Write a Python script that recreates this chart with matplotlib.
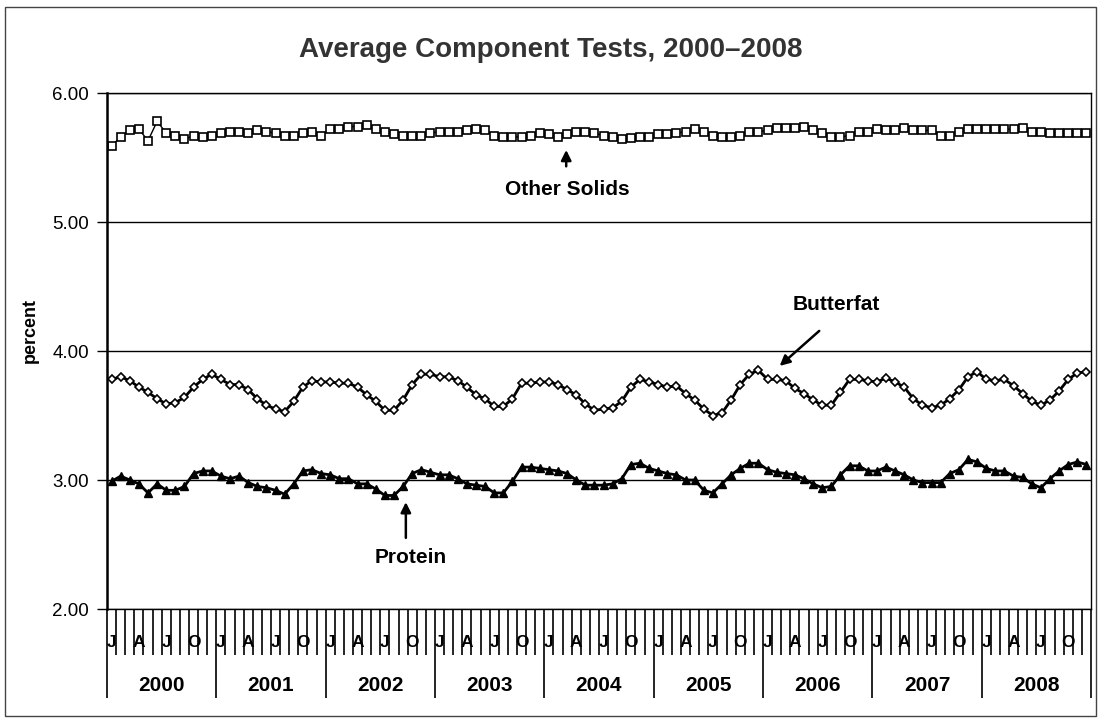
import matplotlib
matplotlib.use("Agg")
import matplotlib.pyplot as plt
from matplotlib.patches import Rectangle

plt.rcParams['font.family'] = ['Liberation Sans', 'DejaVu Sans']

years = ['2000', '2001', '2002', '2003', '2004', '2005', '2006', '2007', '2008']
month_labels = ['J', '', '', 'A', '', '', 'J', '', '', 'O', '', '']

other_solids = [
    5.59, 5.66, 5.71, 5.72, 5.63, 5.78, 5.69, 5.67, 5.64, 5.67, 5.66, 5.67,
    5.69, 5.70, 5.70, 5.69, 5.71, 5.70, 5.69, 5.67, 5.67, 5.69, 5.70, 5.67,
    5.72, 5.72, 5.74, 5.74, 5.75, 5.72, 5.70, 5.68, 5.67, 5.67, 5.67, 5.69,
    5.70, 5.70, 5.70, 5.71, 5.72, 5.71, 5.67, 5.66, 5.66, 5.66, 5.67, 5.69,
    5.68, 5.66, 5.68, 5.70, 5.70, 5.69, 5.67, 5.66, 5.64, 5.65, 5.66, 5.66,
    5.68, 5.68, 5.69, 5.70, 5.72, 5.70, 5.67, 5.66, 5.66, 5.67, 5.70, 5.70,
    5.71, 5.73, 5.73, 5.73, 5.74, 5.71, 5.69, 5.66, 5.66, 5.67, 5.70, 5.70,
    5.72, 5.71, 5.71, 5.73, 5.71, 5.71, 5.71, 5.67, 5.67, 5.70, 5.72, 5.72,
    5.72, 5.72, 5.72, 5.72, 5.73, 5.70, 5.70, 5.69, 5.69, 5.69, 5.69, 5.69,
]

butterfat = [
    3.78, 3.80, 3.77, 3.72, 3.68, 3.63, 3.59, 3.60, 3.64, 3.72, 3.78, 3.82,
    3.78, 3.74, 3.74, 3.70, 3.63, 3.58, 3.55, 3.53, 3.61, 3.72, 3.77, 3.76,
    3.76, 3.75, 3.75, 3.72, 3.66, 3.61, 3.54, 3.54, 3.62, 3.74, 3.82, 3.82,
    3.80, 3.80, 3.77, 3.72, 3.66, 3.63, 3.57, 3.57, 3.63, 3.75, 3.75, 3.76,
    3.76, 3.74, 3.70, 3.66, 3.59, 3.54, 3.55, 3.56, 3.61, 3.72, 3.78, 3.76,
    3.74, 3.72, 3.73, 3.67, 3.62, 3.55, 3.50, 3.52, 3.62, 3.74, 3.82, 3.85,
    3.78, 3.78, 3.77, 3.71, 3.67, 3.62, 3.58, 3.58, 3.68, 3.78, 3.78, 3.77,
    3.76, 3.79, 3.76, 3.72, 3.63, 3.58, 3.56, 3.58, 3.63, 3.70, 3.80, 3.84,
    3.78, 3.77, 3.78, 3.73, 3.67, 3.61, 3.58, 3.62, 3.69, 3.78, 3.83, 3.84,
]

protein = [
    2.99, 3.03, 3.00, 2.97, 2.90, 2.97, 2.92, 2.92, 2.95, 3.05, 3.07, 3.07,
    3.03, 3.01, 3.03, 2.98, 2.95, 2.94, 2.92, 2.89, 2.97, 3.07, 3.08, 3.05,
    3.04, 3.01, 3.01, 2.97, 2.97, 2.93, 2.88, 2.88, 2.95, 3.05, 3.08, 3.06,
    3.04, 3.04, 3.01, 2.97, 2.96, 2.95, 2.90, 2.90, 2.99, 3.10, 3.10, 3.09,
    3.08, 3.07, 3.05, 3.00, 2.96, 2.96, 2.96, 2.97, 3.01, 3.12, 3.13, 3.09,
    3.07, 3.05, 3.04, 3.00, 3.00, 2.92, 2.90, 2.97, 3.04, 3.09, 3.13, 3.13,
    3.08, 3.06, 3.05, 3.04, 3.01, 2.97, 2.94, 2.95, 3.04, 3.11, 3.11, 3.07,
    3.07, 3.10, 3.07, 3.04, 3.00, 2.98, 2.98, 2.98, 3.05, 3.08, 3.16, 3.14,
    3.09, 3.07, 3.07, 3.03, 3.02, 2.97, 2.94, 3.01, 3.07, 3.12, 3.14, 3.12,
]


def build_chart():
    n = len(protein)
    x = [i + 0.5 for i in range(n)]

    fig = plt.figure(figsize=(11.01, 7.22), dpi=100)
    ax = fig.add_axes([107 / 1101, 1 - 609 / 722, 984 / 1101, 516 / 722])

    # outer frame around the whole chart
    fig.patches.append(Rectangle((5 / 1101, 1 - 716 / 722), 1091 / 1101, 709 / 722,
                                 transform=fig.transFigure, fill=False,
                                 edgecolor='#444444', linewidth=1))

    ax.plot(x, other_solids, color='black', linewidth=1, marker='s', markersize=5.5,
            markerfacecolor='white', markeredgecolor='black', markeredgewidth=1.2)
    ax.plot(x, butterfat, color='black', linewidth=2, marker='D', markersize=4,
            markerfacecolor='white', markeredgecolor='black', markeredgewidth=1.2)
    ax.plot(x, protein, color='black', linewidth=2, marker='^', markersize=5.5,
            markerfacecolor='black', markeredgecolor='black')

    ax.set_xlim(0, n)
    ax.set_ylim(2, 6)
    ax.set_yticks([2, 3, 4, 5, 6])
    ax.set_yticklabels([f'{v:.2f}' for v in [2, 3, 4, 5, 6]], fontsize=13.5)
    ax.yaxis.grid(True, color='black', linewidth=1)
    ax.set_axisbelow(True)
    ax.tick_params(axis='y', length=7, width=1, pad=6)

    # category axis: month separators and longer year separators
    ax.set_xticks(range(0, n + 1, 12))
    ax.set_xticks(range(0, n + 1), minor=True)
    ax.set_xticklabels([])
    ax.tick_params(axis='x', which='major', length=64, width=1.2, direction='out')
    ax.tick_params(axis='x', which='minor', length=33, width=1.2, direction='out')

    for y_idx, year in enumerate(years):
        for m_idx, lab in enumerate(month_labels):
            if lab:
                ax.annotate(lab, xy=(y_idx * 12 + m_idx + 0.5, 0),
                            xycoords=('data', 'axes fraction'),
                            xytext=(0, -24), textcoords='offset points',
                            ha='center', va='center', fontsize=12.5, fontweight='bold')
        ax.annotate(year, xy=(y_idx * 12 + 6, 0), xycoords=('data', 'axes fraction'),
                    xytext=(0, -55), textcoords='offset points',
                    ha='center', va='center', fontsize=15, fontweight='bold')

    for side in ['top', 'right', 'bottom']:
        ax.spines[side].set_linewidth(1)
    ax.spines['left'].set_linewidth(1.8)

    arrow = dict(arrowstyle='-|>', color='black', lw=1.8, mutation_scale=15)
    ax.annotate('', xy=(50.4, 5.58), xytext=(50.4, 5.41), arrowprops=arrow)
    ax.text(50.5, 5.25, 'Other Solids', ha='center', va='center',
            fontsize=15, fontweight='bold')
    ax.annotate('', xy=(73.6, 3.87), xytext=(78.4, 4.17), arrowprops=arrow)
    ax.text(80.0, 4.36, 'Butterfat', ha='center', va='center',
            fontsize=15, fontweight='bold')
    ax.annotate('', xy=(32.8, 2.85), xytext=(32.8, 2.53), arrowprops=arrow)
    ax.text(33.3, 2.40, 'Protein', ha='center', va='center',
            fontsize=15, fontweight='bold')

    fig.text(30 / 1101, 1 - 330 / 722, 'percent', rotation=90, ha='center', va='center',
             fontsize=13, fontweight='bold')
    fig.text(0.5, 1 - 50 / 722, 'Average Component Tests, 2000\u20132008',
             ha='center', va='center', fontsize=20, fontweight='bold', color='#333333')

    fig.savefig('out.png', dpi=100)


if __name__ == '__main__':
    build_chart()
